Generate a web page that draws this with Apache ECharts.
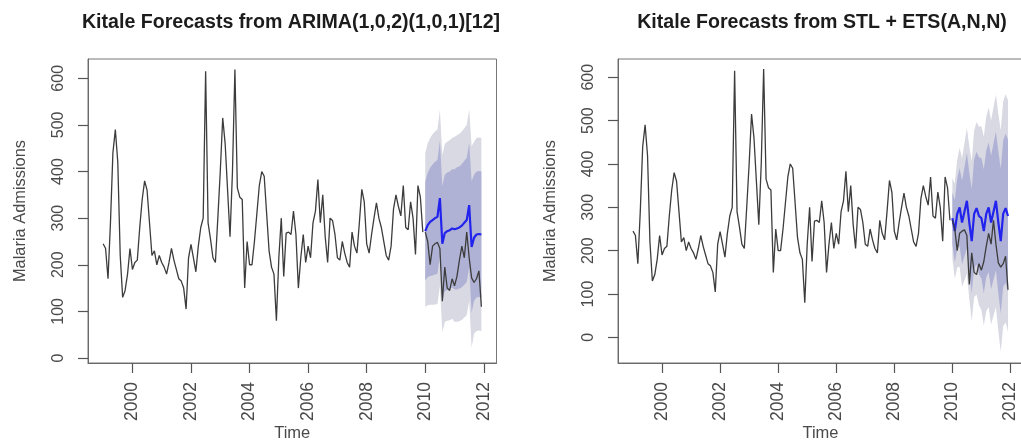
<!DOCTYPE html>
<html>
<head>
<meta charset="utf-8">
<script src="https://cdn.jsdelivr.net/npm/echarts@6/dist/echarts.min.js"></script>
<style>
html,body{margin:0;padding:0;background:#fff;}
#chart{width:1021px;height:441px;}
</style>
</head>
<body>
<div id="chart"></div>
<script>
// ---- Data (monthly, Jan 1999 - Dec 2011) ----
const startYear = 1999;
const titles = ['Kitale Forecasts from ARIMA(1,0,2)(1,0,1)[12]', 'Kitale Forecasts from STL + ETS(A,N,N)'];
const yTicks = [0, 100, 200, 300, 400, 500, 600];
const xTicks = [2000, 2002, 2004, 2006, 2008, 2010, 2012];

// Observed malaria admissions Jan 1999 - Dec 2009 (training)
const history = [
  245, 235, 170, 290, 440, 490, 420, 220, 130, 145, 180, 235,   // 1999
  190, 205, 210, 280, 340, 380, 360, 290, 220, 230, 200, 220,   // 2000
  205, 195, 180, 205, 235, 210, 190, 170, 165, 150, 105, 215,   // 2001
  244, 215, 185, 240, 280, 300, 615, 290, 255, 215, 205, 300,   // 2002
  400, 515, 460, 360, 260, 400, 619, 365, 345, 340, 150, 250,   // 2003
  200, 200, 250, 310, 370, 400, 390, 310, 230, 195, 180, 80,    // 2004
  215, 300, 175, 268, 270, 265, 315, 265, 150, 215, 265, 205,   // 2005
  240, 215, 290, 315, 383, 290, 350, 260, 205, 300, 295, 265,   // 2006
  215, 210, 250, 225, 205, 195, 270, 240, 225, 290, 362, 335,   // 2007
  245, 225, 265, 300, 333, 300, 280, 250, 220, 210, 240, 320,   // 2008
  350, 325, 305, 370, 280, 275, 335, 300, 222, 370, 345, 270    // 2009
];
// Observed test values Jan 2010 - Dec 2011
const actual = [
  270, 250, 200, 240, 245, 248, 235, 122, 195, 150, 145, 170,
  155, 175, 210, 240, 215, 270, 215, 172, 162, 170, 187, 110
];

// ARIMA forecasts and intervals (Jan 2010 - Dec 2011)
const arimaMean = [272, 285, 292, 296, 300, 303, 343, 245, 268, 272, 274, 278, 276, 278, 280, 284, 290, 296, 328, 238, 258, 265, 266, 265];
const arimaHi95 = [440, 460, 472, 480, 486, 490, 532, 435, 459, 464, 467, 472, 474, 478, 481, 486, 493, 500, 533, 454, 464, 472, 473, 472];
const arimaLo95 = [110, 113, 114, 114, 115, 116, 154, 55, 77, 80, 81, 84, 78, 78, 79, 82, 87, 92, 123, 22, 52, 58, 59, 58];
const arimaHi80 = [378, 397, 408, 415, 421, 425, 467, 369, 393, 398, 400, 405, 405, 409, 411, 416, 423, 429, 462, 379, 393, 400, 401, 400];
const arimaLo80 = [166, 173, 176, 177, 179, 181, 219, 121, 143, 146, 148, 151, 147, 147, 149, 152, 157, 163, 194, 97, 123, 130, 131, 130];

// STL + ETS forecasts and intervals (Jan 2010 - Dec 2011)
const stlMean = [275, 245, 285, 300, 265, 290, 315, 265, 222, 285, 298, 280, 275, 245, 285, 300, 265, 290, 315, 265, 222, 285, 298, 280];
const stlHi95 = [367, 355, 409, 437, 413, 448, 483, 441, 406, 477, 497, 486, 487, 463, 509, 530, 500, 530, 560, 515, 477, 544, 561, 547];
const stlLo95 = [183, 135, 161, 163, 117, 132, 147, 89, 38, 93, 99, 74, 63, 27, 61, 70, 30, 50, 70, 15, -33, 26, 35, 13];
const stlHi80 = [335, 317, 366, 390, 362, 393, 425, 380, 342, 411, 428, 415, 414, 388, 431, 450, 419, 447, 475, 429, 389, 454, 470, 455];
const stlLo80 = [215, 173, 204, 210, 168, 187, 205, 150, 102, 159, 168, 145, 136, 102, 139, 150, 111, 133, 155, 101, 55, 116, 126, 105];

// ---- Build ----
const histT = history.map((v, i) => [startYear + i / 12, v]);
const fcStart = startYear + history.length / 12;
const tOf = i => fcStart + i / 12;
const toPts = arr => arr.map((v, i) => [tOf(i), v]);

const FONT = 'Liberation Sans, Arial, sans-serif';
const TXT = '#4a4a4a';
const LINE = '#3c3c3c';
const C95 = '#d8d9e2';
const C80 = '#b0b2d5';
const BLUE = '#2323ee';
const AXIS = '#6a6a6a';

const panels = [
  {left: 88, width: 408.5, ymin: -10.7, ymax: 641.4, centre: 291,
   mean: arimaMean, hi95: arimaHi95, lo95: arimaLo95, hi80: arimaHi80, lo80: arimaLo80},
  {left: 618, width: 405, ymin: -59, ymax: 642, centre: 822,
   mean: stlMean, hi95: stlHi95, lo95: stlLo95, hi80: stlHi80, lo80: stlLo80}
];

function bandSeries(k, hi, lo, color, z) {
  return {
    type: 'custom', xAxisIndex: k, yAxisIndex: k, z: z, silent: true, clip: true,
    data: hi.map((v, i) => [tOf(i), lo[i], v]),
    renderItem: function (params, api) {
      if (params.dataIndex !== 0) return null;
      const pts = [];
      for (let i = 0; i < hi.length; i++) pts.push(api.coord([tOf(i), hi[i]]));
      for (let i = lo.length - 1; i >= 0; i--) pts.push(api.coord([tOf(i), lo[i]]));
      return {type: 'polygon', shape: {points: pts}, style: {fill: color, stroke: null}};
    }
  };
}

const grids = [], xAxes = [], yAxes = [], series = [], title = [];
panels.forEach((p, k) => {
  grids.push({left: p.left, width: p.width, top: 59, height: 304, show: true,
    outerBoundsMode: 'none', containLabel: false,
    borderColor: '#777', borderWidth: 1, backgroundColor: 'transparent'});
  title.push({text: titles[k], left: p.centre, top: 13, padding: 0, textAlign: 'center',
    textStyle: {fontFamily: FONT, fontSize: 19.6, fontWeight: 'bold', color: '#1c1c1c'}});
  xAxes.push({type: 'value', gridIndex: k, min: 1998.483, max: 2012.433, position: 'bottom',
    splitLine: {show: false},
    axisLine: {show: true, onZero: false, lineStyle: {color: AXIS, width: 1}},
    axisTick: {show: true, inside: false, length: 10, customValues: xTicks, lineStyle: {color: '#555', width: 1.2}},
    axisLabel: {customValues: xTicks, rotate: 90, margin: 19, fontFamily: FONT, fontSize: 17.5, color: TXT,
      formatter: v => String(v)},
    name: 'Time', nameLocation: 'middle', nameGap: 62, nameMoveOverlap: false,
    nameTextStyle: {fontFamily: FONT, fontSize: 16.5, color: TXT}});
  yAxes.push({type: 'value', gridIndex: k, min: p.ymin, max: p.ymax, position: 'left',
    splitLine: {show: false},
    axisLine: {show: true, onZero: false, lineStyle: {color: AXIS, width: 1}},
    axisTick: {show: true, inside: false, length: 10, customValues: yTicks, lineStyle: {color: '#555', width: 1.2}},
    axisLabel: {customValues: yTicks, rotate: 90, margin: 21, fontFamily: FONT, fontSize: 16, color: TXT,
      formatter: v => String(v)},
    name: 'Malaria Admissions', nameLocation: 'middle', nameGap: 60, nameRotate: 90, nameMoveOverlap: false,
    nameTextStyle: {fontFamily: FONT, fontSize: 16.4, color: TXT}});

  const common = {xAxisIndex: k, yAxisIndex: k, showSymbol: false, symbol: 'none', silent: true};
  series.push(bandSeries(k, p.hi95, p.lo95, C95, 1));
  series.push(bandSeries(k, p.hi80, p.lo80, C80, 2));
  series.push(Object.assign({type: 'line', z: 3, data: histT,
    lineStyle: {color: LINE, width: 1.3}}, common));
  series.push(Object.assign({type: 'line', z: 4, data: toPts(p.mean),
    lineStyle: {color: BLUE, width: 2.2}}, common));
  series.push(Object.assign({type: 'line', z: 5, data: toPts(actual),
    lineStyle: {color: LINE, width: 1.3}}, common));
});

const chart = echarts.init(document.getElementById('chart'), null, {renderer: 'canvas'});
chart.setOption({
  animation: false,
  backgroundColor: '#ffffff',
  title: title,
  grid: grids,
  xAxis: xAxes,
  yAxis: yAxes,
  series: series
});
</script>
</body>
</html>
